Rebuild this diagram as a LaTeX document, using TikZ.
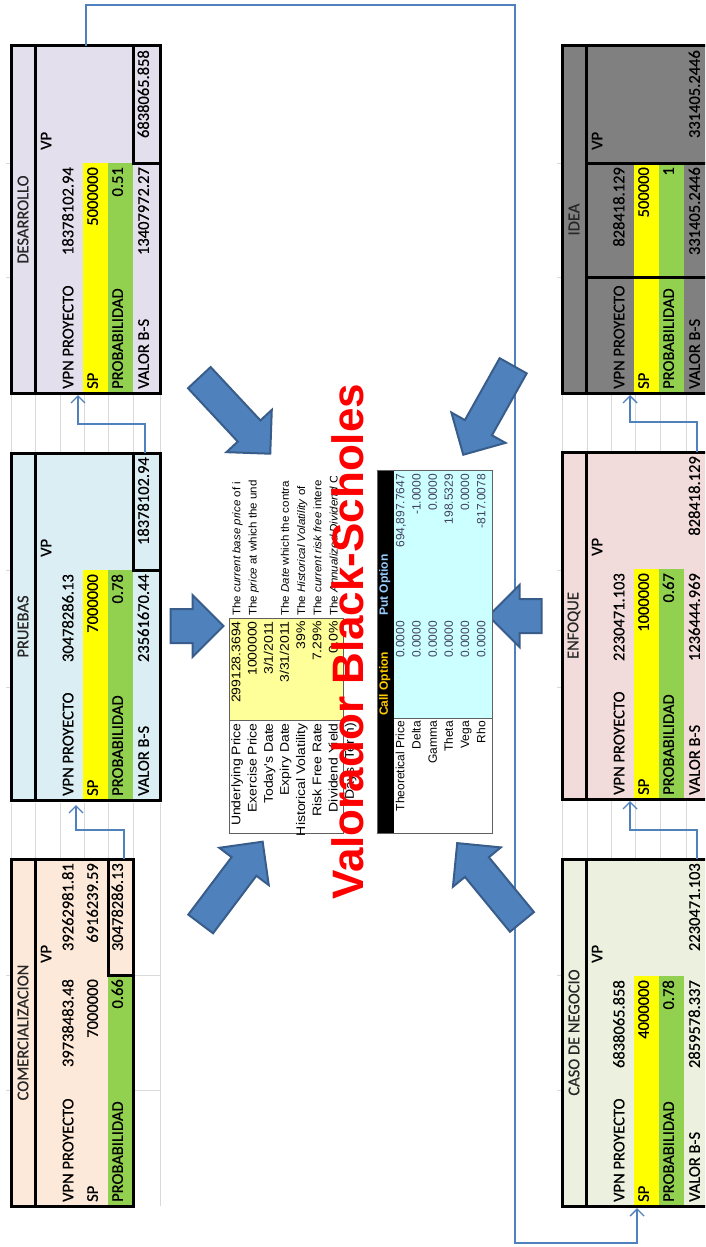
\documentclass[tikz,border=0pt]{standalone}
\usepackage{fontspec}
\setmainfont{Carlito}
\newfontfamily\cellfont[FakeBold=0.5]{Carlito}
\newfontfamily\arialfont{Liberation Sans}
\usetikzlibrary{shapes.arrows,arrows.meta}

\definecolor{desBg}{HTML}{E4DFEC}
\definecolor{pruBg}{HTML}{DAEEF3}
\definecolor{comBg}{HTML}{FDE9D9}
\definecolor{ideaBg}{HTML}{808080}
\definecolor{enfBg}{HTML}{F2DCDB}
\definecolor{casoBg}{HTML}{EBF1DE}
\definecolor{spYellow}{HTML}{FFFF00}
\definecolor{probGreen}{HTML}{92D050}
\definecolor{linkBlue}{HTML}{4F81BD}
\definecolor{arrowFill}{HTML}{4F81BD}
\definecolor{arrowEdge}{HTML}{385D8A}
\definecolor{gridGray}{HTML}{D9D9D9}
\definecolor{inYellow}{HTML}{FFFF99}
\definecolor{outCyan}{HTML}{CCFFFF}
\definecolor{callGold}{HTML}{FFCC00}
\definecolor{putBlue}{HTML}{99CCFF}
\definecolor{valText}{HTML}{404060}
\definecolor{calcLine}{HTML}{606060}

% one stage of the project: #1 name, #2 fill, #3 header, #4 VPN, #5 SP,
% #6 probability, #7 B-S value, #8 value carried to the previous stage, #9 extra borders
\newcommand\stagetable[9]{%
  \fill[#2] (0,0) rectangle (149,347);
  \fill[spYellow] (72,117) rectangle (97,347);
  \fill[probGreen] (97,117) rectangle (122,347);
  \node[hdr] (#1-head) at (12,173.5) {#3};
  \node[lab] (#1-vp) at (38,104) {VP};
  \node[lab] (#1-vpnl) at (60,343) {VPN PROYECTO};
  \node[num] (#1-vpn) at (60,121) {#4};
  \node[lab] (#1-spl) at (84.5,343) {SP};
  \node[num] (#1-sp) at (84.5,121) {#5};
  \node[lab] (#1-probl) at (109.5,343) {PROBABILIDAD};
  \node[num] (#1-prob) at (109.5,121) {#6};
  \node[lab] (#1-bsl) at (135.5,343) {VALOR B-S};
  \node[num] (#1-bs) at (135.5,121) {#7};
  \node[num] (#1-out) at (135.5,4) {#8};
  \draw[heavy] (0,0) rectangle (149,347);
  \draw[heavy] (24,0) -- (24,347);
  #9
}

\begin{document}
\begin{tikzpicture}[x=1pt,y=-1pt,
  cell/.style={rotate=90, xscale=1.0, inner sep=0pt, font=\cellfont\fontsize{16.5}{19}\selectfont, text=black},
  lab/.style={cell, anchor=mid west},
  num/.style={cell, anchor=mid east},
  hdr/.style={cell, anchor=center, text=black!85},
  heavy/.style={line width=3pt, black},
  gridline/.style={draw=gridGray, line width=0.9pt},
  link/.style={draw=linkBlue, line width=1.4pt, -{Straight Barb[length=7pt,width=14pt,line width=1.4pt]}},
  blk/.style={single arrow, draw=arrowEdge, fill=arrowFill, line width=2pt, inner xsep=0pt,
              single arrow tip angle=90},
  inp/.style={rotate=90, xscale=1.12, inner sep=0pt, font=\arialfont\fontsize{12.5}{15}\selectfont, text=black},
  desc/.style={rotate=90, xscale=1.05, inner sep=0pt, font=\arialfont\fontsize{11}{13}\selectfont, text=black, anchor=mid west},
  outp/.style={rotate=90, inner sep=0pt, font=\arialfont\fontsize{12}{14}\selectfont, anchor=mid east},
  ohdr/.style={rotate=90, inner sep=0pt, font=\arialfont\bfseries\fontsize{12}{14}\selectfont, anchor=mid west}]

\useasboundingbox (0,0) rectangle (705,1247);
\fill[white] (0,0) rectangle (705,1247);
\clip (0,0) rectangle (705,1247);

% ---------- spreadsheet grid between the stage tables ----------
\foreach \gx in {11,35,60,84,108,133,160} {
  \draw[gridline] (\gx,393) -- (\gx,453);
  \draw[gridline] (\gx,803) -- (\gx,859);
}
\foreach \gx in {562,587,611,635,660,686} {
  \draw[gridline] (\gx,393) -- (\gx,452);
  \draw[gridline] (\gx,799) -- (\gx,859);
}
\draw[gridline] (160,859) -- (160,1206);
\draw[gridline] (133,975) -- (160,975);
\draw[gridline] (133,1090) -- (160,1090);
\foreach \gy in {163,277,570,687,975,1090} {
  \draw[gridline] (6,\gy) -- (11,\gy);
  \draw[gridline] (557,\gy) -- (562,\gy);
}

% ---------- left column of stages ----------
\begin{scope}[shift={(11,46)}]
  \stagetable{des}{desBg}{DESARROLLO}{18378102.94}{5000000}{0.51}{13407972.27}{6838065.858}
    {\draw[heavy] (122,0) -- (122,117) -- (149,117);}
\end{scope}

\begin{scope}[shift={(11,453)}]
  \stagetable{pru}{pruBg}{PRUEBAS}{30478286.13}{7000000}{0.78}{23561670.44}{18378102.94}
    {\draw[heavy] (122,0) -- (122,117) -- (149,117);}
\end{scope}

\begin{scope}[shift={(11,859)}]
  \fill[comBg] (0,0) rectangle (122,347);
  \fill[probGreen] (97,116) rectangle (122,347);
  \node[hdr] (com-head) at (12,173.5) {COMERCIALIZACION};
  \node[lab] (com-vp) at (38,104) {VP};
  \node[lab] (com-vpnl) at (60,343) {VPN PROYECTO};
  \node[num] (com-vpn) at (60,120) {39738483.48};
  \node[num] (com-vpnc) at (60,4) {39262981.81};
  \node[lab] (com-spl) at (84.5,343) {SP};
  \node[num] (com-sp) at (84.5,120) {7000000};
  \node[num] (com-spc) at (84.5,4) {6916239.59};
  \node[lab] (com-probl) at (109.5,343) {PROBABILIDAD};
  \node[num] (com-prob) at (109.5,120) {0.66};
  \node[num] (com-out) at (109.5,4) {30478286.13};
  \draw[heavy] (0,0) rectangle (122,347);
  \draw[heavy] (24,0) -- (24,347);
  \draw[heavy] (97,0) -- (97,116) -- (122,116);
\end{scope}

% ---------- right column of stages ----------
\begin{scope}[shift={(562,46)}]
  \stagetable{idea}{ideaBg}{IDEA}{828418.129}{500000}{1}{331405.2446}{331405.2446}
    {\draw[heavy] (24,117) -- (160,117); \draw[heavy] (24,231) -- (160,231);}
\end{scope}

\begin{scope}[shift={(562,452)}]
  \stagetable{enf}{enfBg}{ENFOQUE}{2230471.103}{1000000}{0.67}{1236444.969}{828418.129}{}
\end{scope}

\begin{scope}[shift={(562,859)}]
  \stagetable{caso}{casoBg}{CASO DE NEGOCIO}{6838065.858}{4000000}{0.78}{2859578.337}{2230471.103}{}
\end{scope}

% ---------- links between stages ----------
\coordinate (desTop) at (86,46);
\coordinate (desIn) at (78,395);
\coordinate (pruOut) at (145,453);
\coordinate (pruIn) at (76,805);
\coordinate (comOut) at (124,859);
\coordinate (ideaIn) at (630,395);
\coordinate (enfOut) at (697,452);
\coordinate (enfIn) at (630,801);
\coordinate (casoOut) at (697,859);
\coordinate (casoIn) at (637,1208);
\coordinate (busTop) at (515,5);
\coordinate (busBot) at (515,1243);

\draw[link] (pruOut) -- ++(0,-29) -| (desIn);
\draw[link] (comOut) -- ++(0,-29) -| (pruIn);
\draw[link] (enfOut) -- ++(0,-30) -| (ideaIn);
\draw[link] (casoOut) -- ++(0,-29) -| (enfIn);
\draw[link] (desTop) |- (busTop) -- (busBot) -| (casoIn);

% ---------- block arrows toward the valuation sheet ----------
\node[blk, minimum height=104pt, inner ysep=14.5pt, single arrow head extend=15.5pt, rotate=-47] (arrDes) at (229.5,410) {};
\node[blk, minimum height=53pt, inner ysep=16pt, single arrow head extend=14pt, rotate=0] (arrPru) at (188.5,626) {};
\node[blk, minimum height=103pt, inner ysep=14.5pt, single arrow head extend=15.5pt, rotate=53] (arrCom) at (227,889) {};
\node[blk, minimum height=102pt, inner ysep=14.5pt, single arrow head extend=15.5pt, rotate=-119.3] (arrIdea) at (492,403.5) {};
\node[blk, minimum height=53pt, inner ysep=16pt, single arrow head extend=14pt, rotate=180] (arrEnf) at (523.5,616) {};
\node[blk, minimum height=102pt, inner ysep=14.5pt, single arrow head extend=15.5pt, rotate=129.4] (arrCaso) at (494.5,888.5) {};

% ---------- Black-Scholes inputs ----------
\fill[inYellow] (229,618) rectangle (343,720);
\draw[calcLine, line width=0.9pt] (229,618) rectangle (343,833);
\draw[calcLine, line width=0.9pt] (229,720) -- (343,720);
\foreach \lbl/\val [count=\i from 0] in
  {Underlying Price/299128.3694, Exercise Price/1000000, Today's Date/3\slash 1\slash 2011,
   Expiry Date/3\slash 31\slash 2011, Historical Volatility/39\%, Risk Free Rate/7.29\%,
   Dividend Yield/0.0\%, Days (Term)/{}} {
  \node[inp, anchor=mid east] (inLab\i) at (238+16.2*\i,723) {\lbl};
  \node[inp, anchor=mid east] (inVal\i) at (238+16.2*\i,621) {\val};
}
\begin{scope}
  \clip (225,476) rectangle (345,617);
  \node[desc] (inDsc0) at (238,616) {The \textit{current base price} of i};
  \node[desc] (inDsc1) at (254.2,616) {The \textit{price} at which the und};
  \node[desc] (inDsc3) at (286.6,616) {The \textit{Date} which the contra};
  \node[desc] (inDsc4) at (302.8,616) {The \textit{Historical Volatility} of};
  \node[desc] (inDsc5) at (319,616) {The \textit{current risk free} intere};
  \node[desc] (inDsc6) at (335.2,616) {The \textit{Annualized Dividend} C};
\end{scope}

% ---------- Black-Scholes results ----------
\fill[outCyan] (394,470) rectangle (492,718);
\fill[black] (377,470) rectangle (394,833);
\draw[calcLine, line width=0.6pt] (394,718) -- (492,718);
\draw[calcLine, line width=0.9pt] (377,470) rectangle (492,833);
\node[ohdr, text=callGold] (callHead) at (385.5,716) {Call Option};
\node[ohdr, text=putBlue] (putHead) at (385.5,616) {Put Option};
\foreach \lbl/\cv/\pv [count=\i from 0] in
  {Theoretical Price/0.0000/{694,897.7647}, Delta/0.0000/-1.0000, Gamma/0.0000/0.0000,
   Theta/0.0000/198.5329, Vega/0.0000/0.0000, Rho/0.0000/-817.0078} {
  \node[outp, text=black] (outLab\i) at (402+16.2*\i,721) {\lbl};
  \node[outp, text=valText] (outCall\i) at (402+16.2*\i,621) {\cv};
  \node[outp, text=valText] (outPut\i) at (402+16.2*\i,474) {\pv};
}

% ---------- title ----------
\node[rotate=90, anchor=base west, inner sep=0pt, text=red,
      font=\arialfont\bfseries\fontsize{44}{50}\selectfont] (title) at (363,900) {Valorador Black-Scholes};

\end{tikzpicture}
\end{document}
